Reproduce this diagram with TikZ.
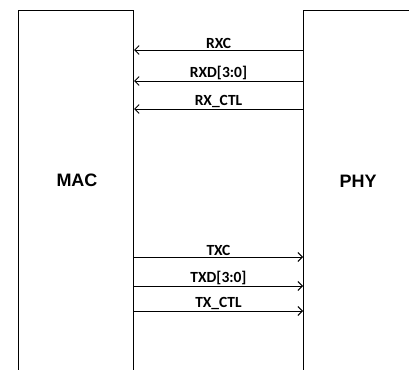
\documentclass[tikz,border=0pt]{standalone}
\usepackage{fontspec}
\setmainfont{Liberation Sans}
\newfontfamily\sigfont{Carlito}[BoldFont={Carlito Bold}]
\usetikzlibrary{arrows.meta}

\begin{document}
\begin{tikzpicture}[
				x=1pt, y=-1pt,
				block/.style={draw, line width=1pt, rectangle, inner sep=0pt, anchor=north west},
				blocklbl/.style={font=\fontsize{18}{20}\selectfont\bfseries},
				sig/.style={line width=0.9pt, -{Straight Barb[length=4.5pt, width=9pt]}},
				siglbl/.style={font=\sigfont\bfseries\fontsize{15.5}{17}\selectfont, above, inner sep=1pt}
				]
				
				\useasboundingbox (0,0) rectangle (409,369);
				\clip (0,0) rectangle (409,369);
				
				% Blocks
				\node[block, minimum width=115pt, minimum height=380pt] (mac) at (18,10) {};
				\node[block, minimum width=120pt, minimum height=380pt] (phy) at (303,10) {};
				\node[blocklbl] (maclbl) at (77,180) {MAC};
				\node[blocklbl] (phylbl) at (358,181) {PHY};
				
				% Receive side
				\foreach \y/\txt in {50/RXC, 81/{RXD[3:0]}, 109/{RX\_CTL}}
				{
					\draw[sig] (phy.west |- 0,\y) -- (mac.east |- 0,\y) node[siglbl, midway] {\txt};
				}
				
				% Transmit side
				\foreach \y/\txt in {257/TXC, 286/{TXD[3:0]}, 311/{TX\_CTL}}
				{
					\draw[sig] (mac.east |- 0,\y) -- (phy.west |- 0,\y) node[siglbl, midway] {\txt};
				}
				
			\end{tikzpicture}
\end{document}
